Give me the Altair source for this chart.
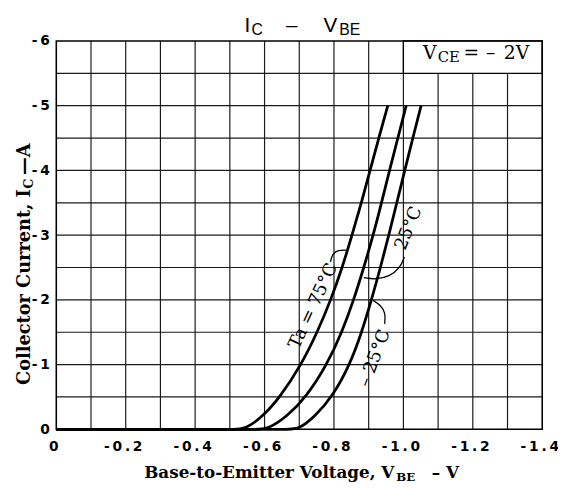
import altair as alt
import pandas as pd

# ---------------- data ----------------
currents = [0.0, -0.2, -0.5, -1.0, -1.5, -2.0, -2.5, -3.0, -3.5, -4.0, -4.5, -5.0]
vbe_75 = [-0.545, -0.595, -0.645, -0.706, -0.752, -0.791, -0.824, -0.852, -0.879, -0.904, -0.929, -0.955]
vbe_25 = [-0.610, -0.665, -0.720, -0.780, -0.823, -0.857, -0.886, -0.913, -0.937, -0.960, -0.984, -1.008]
vbe_m25 = [-0.700, -0.745, -0.795, -0.846, -0.880, -0.908, -0.934, -0.958, -0.981, -1.004, -1.027, -1.051]
curve_names = ["75", "25", "-25"]
# flat (I = 0) part of each curve, drawn before it leaves the axis
flat_v = [0.0, -0.50]

x_ticks = [0, -0.2, -0.4, -0.6, -0.8, -1.0, -1.2, -1.4]
x_tick_labels = ["0", "-\u20090\u2009.\u20092", "-\u20090\u2009.\u20094", "-\u20090\u2009.\u20096",
                 "-\u20090\u2009.\u20098", "-\u20091\u2009.\u20090", "-\u20091\u2009.\u20092",
                 "-\u20091\u2009.\u20094"]
y_ticks = [0, -1, -2, -3, -4, -5, -6]
y_tick_labels = ["0", "-\u20091", "-\u20092", "-\u20093", "-\u20094", "-\u20095", "-\u20096"]
x_grid = [-0.1, -0.2, -0.3, -0.4, -0.5, -0.6, -0.7, -0.8, -0.9, -1.0, -1.1, -1.2, -1.3]
y_grid = [-0.5, -1.0, -1.5, -2.0, -2.5, -3.0, -3.5, -4.0, -4.5, -5.0, -5.5]

label_text = ["Ta = 75°C", "25°C", "– 25°C"]
label_v = [-0.741, -1.016, -0.918]
label_i = [-1.903, -3.105, -1.096]
label_angle = [295, 292, 291]

leader_75_v = [-0.790, -0.795, -0.812, -0.835]
leader_75_i = [-2.588, -2.709, -2.770, -2.770]
leader_25_v = [-1.003, -0.991, -0.960, -0.918, -0.886]
leader_25_i = [-2.664, -2.496, -2.359, -2.314, -2.344]
leader_m25_v = [-0.946, -0.949, -0.935, -0.912]
leader_m25_i = [-1.629, -1.796, -1.918, -1.994]

# ---------------- tables ----------------
rows = []
for name, vs in zip(curve_names, [vbe_75, vbe_25, vbe_m25]):
    o = 0
    for fv in flat_v:
        if fv > vs[0] + 0.04:
            rows.append({"curve": name, "V": fv, "I": 0.0, "o": o})
            o += 1
    rows.append({"curve": name, "V": vs[0] + 0.04, "I": 0.0, "o": o})
    o += 1
    for v, i in zip(vs, currents):
        rows.append({"curve": name, "V": v, "I": i, "o": o})
        o += 1
curves_df = pd.DataFrame(rows)

lead_rows = []
for name, vs, cs in [("75", leader_75_v, leader_75_i), ("25", leader_25_v, leader_25_i),
                     ("-25", leader_m25_v, leader_m25_i)]:
    for k, (v, i) in enumerate(zip(vs, cs)):
        lead_rows.append({"lead": name, "V": v, "I": i, "o": k})
lead_df = pd.DataFrame(lead_rows)

labels_df = pd.DataFrame({"t": label_text, "V": label_v, "I": label_i, "a": label_angle})

W, H = 493, 394
xs = alt.Scale(domain=[0, -1.4], nice=False, zero=False)
ys = alt.Scale(domain=[0, -6], nice=False, zero=False)


def expr_for(vals, labs, mult):
    parts = []
    for v, l in zip(vals, labs):
        parts.append(f"round(datum.value*{mult})=={int(round(v*mult))} ? '{l}' : ")
    return "".join(parts) + "''"


x_axis = alt.Axis(values=x_ticks, labelExpr=expr_for(x_ticks, x_tick_labels, 10), title=None,
                  grid=False, ticks=False, domain=False, labelFont="DejaVu Sans",
                  labelFontWeight="bold", labelFontSize=14, labelColor="black",
                  labelPadding=10, labelFlush=False, labelOffset=-3, labelOverlap=False)
y_axis = alt.Axis(values=y_ticks, labelExpr=expr_for(y_ticks, y_tick_labels, 1), title=None,
                  grid=False, ticks=False, domain=False, labelFont="DejaVu Sans",
                  labelFontWeight="bold", labelFontSize=14, labelColor="black",
                  labelPadding=7, labelFlush=False, labelOverlap=False)

vgrid = alt.Chart(pd.DataFrame({"V": x_grid})).mark_rule(color="#1a1a1a", strokeWidth=1.2).encode(
    x=alt.X("V:Q", scale=xs, axis=x_axis))
hgrid = alt.Chart(pd.DataFrame({"I": y_grid})).mark_rule(color="#1a1a1a", strokeWidth=1.2).encode(
    y=alt.Y("I:Q", scale=ys, axis=y_axis))

box = alt.Chart(pd.DataFrame({"a": [-1.0], "b": [-1.4], "c": [-5.5], "d": [-6.0]})).mark_rect(
    fill="white", stroke="black", strokeWidth=1.3).encode(
    x=alt.X("a:Q", scale=xs), x2="b:Q", y=alt.Y("c:Q", scale=ys), y2="d:Q")

lines = alt.Chart(curves_df).mark_line(color="black", strokeWidth=2.8, interpolate="basis").encode(
    x=alt.X("V:Q", scale=xs), y=alt.Y("I:Q", scale=ys), detail="curve:N", order="o:Q")

leaders = alt.Chart(lead_df).mark_line(color="black", strokeWidth=1.3, interpolate="basis").encode(
    x=alt.X("V:Q", scale=xs), y=alt.Y("I:Q", scale=ys), detail="lead:N", order="o:Q")

curve_labels = alt.Chart(labels_df).mark_text(font="DejaVu Serif", fontSize=18, color="black",
                                             align="center", baseline="middle").encode(
    x=alt.X("V:Q", scale=xs), y=alt.Y("I:Q", scale=ys), text="t:N",
    angle=alt.Angle("a:Q", scale=None))

border = alt.Chart(pd.DataFrame({"a": [0.0], "b": [-1.4], "c": [0.0], "d": [-6.0]})).mark_rect(
    fillOpacity=0, stroke="black", strokeWidth=1.6).encode(
    x=alt.X("a:Q", scale=xs), x2="b:Q", y=alt.Y("c:Q", scale=ys), y2="d:Q")

one = pd.DataFrame({"k": [0]})


def piece(text, x, y, size, font, weight="normal", align="left", angle=0):
    return alt.Chart(one).mark_text(text=text, font=font, fontSize=size, fontWeight=weight,
                                    align=align, baseline="alphabetic", angle=angle,
                                    color="black").encode(x=alt.value(x), y=alt.value(y))


SANS = "Liberation Sans"
SERIF = "DejaVu Serif"
texts = [
    # title
    piece("I", 191, -9, 21, SANS),
    piece("C", 198, -6, 16, SANS),
    piece("–", 233, -9, 21, SANS),
    piece("V", 271, -9, 21, SANS),
    piece("BE", 287, -6, 16, SANS),
    # condition box
    piece("V", 372, 18, 19, SERIF),
    piece("CE", 387, 21, 15, SERIF),
    piece("=", 413, 18, 19, SERIF),
    piece("–", 436, 18, 19, SERIF),
    piece("2V", 454, 18, 19, SERIF),
    # x title
    piece("Base-to-Emitter Voltage, V", 343, 443, 17, SERIF, "bold", align="right"),
    piece("BE", 345, 446, 12, SERIF, "bold"),
    piece("– V", 381, 443, 17, SERIF, "bold"),
    # y title
    piece("Collector Current, I", -27, 349, 18, SERIF, "bold", angle=270),
    piece("C", -24, 150, 13, SERIF, "bold", angle=270),
    piece("—A", -27, 136, 18, SERIF, "bold", angle=270),
]

chart = alt.layer(vgrid, hgrid, box, lines, leaders, curve_labels, border, *texts).properties(
    width=W, height=H,
    autosize=alt.AutoSizeParams(type="none"),
    padding={"left": 49, "top": 30, "right": 16, "bottom": 51},
    background="white",
).configure_view(strokeWidth=0)

chart.save("out.html", embed_options={"renderer": "svg", "actions": False})
